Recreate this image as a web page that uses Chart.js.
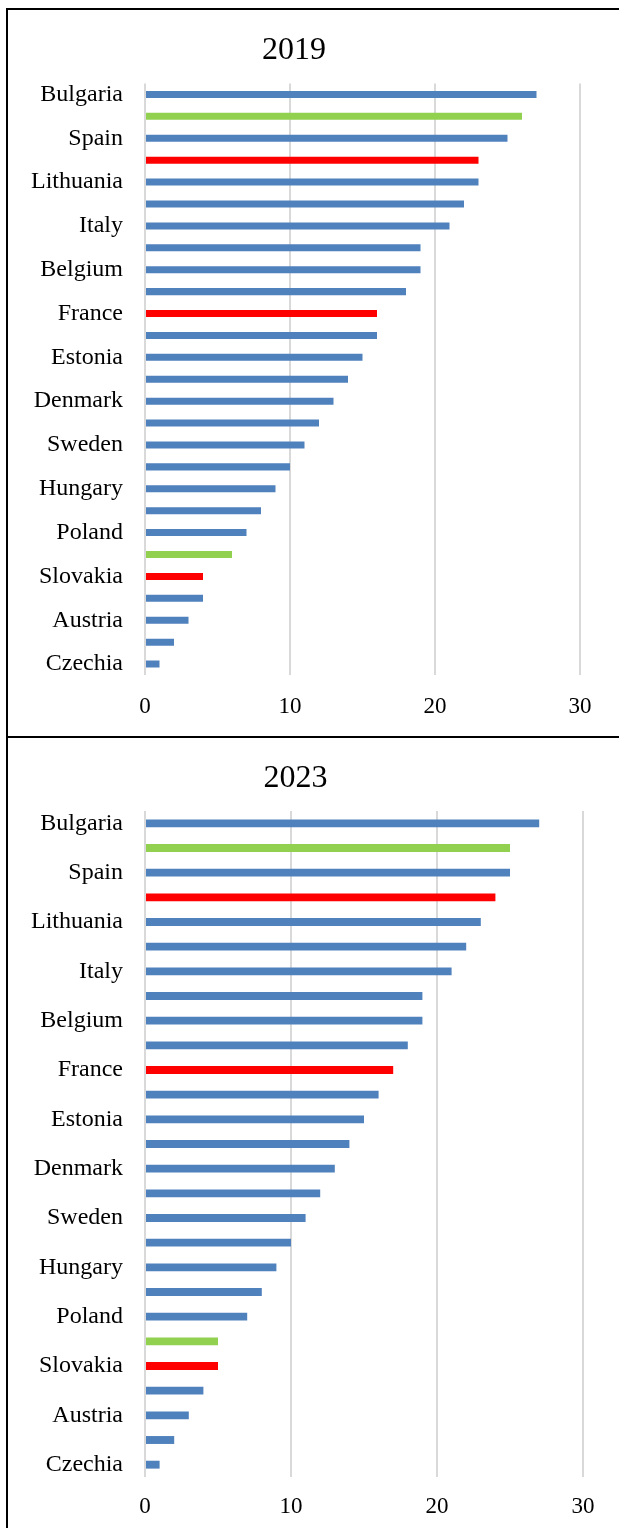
<!DOCTYPE html>
<html>
<head>
<meta charset="utf-8">
<script src="https://cdn.jsdelivr.net/npm/chart.js@4.4.1/dist/chart.umd.min.js"></script>
<style>
  html, body { margin: 0; padding: 0; background: #fff; overflow: hidden; }
  #frame { position: absolute; left: 6px; top: 8px; width: 613px; height: 1520px;
           border-left: 2px solid #000; border-top: 2px solid #000; }
  .panel { position: absolute; left: 0; width: 611px; }
  #p1 { top: 0; height: 726px; }
  #p2 { top: 726px; height: 790px; border-top: 2px solid #000; }
  canvas { display: block; }
</style>
</head>
<body>
<div id="frame">
  <div class="panel" id="p1"><canvas id="c2019"></canvas></div>
  <div class="panel" id="p2"><canvas id="c2023"></canvas></div>
</div>
<script>
// Country rows (every other row carries a label)
const countries = [
  'Bulgaria', '', 'Spain', '', 'Lithuania', '', 'Italy', '', 'Belgium', '',
  'France', '', 'Estonia', '', 'Denmark', '', 'Sweden', '', 'Hungary', '',
  'Poland', '', 'Slovakia', '', 'Austria', '', 'Czechia'
];

// Values per year
const values2019 = [27, 26, 25, 23, 23, 22, 21, 19, 19, 18, 16, 16, 15, 14, 13, 12, 11, 10, 9, 8, 7, 6, 4, 4, 3, 2, 1];
const values2023 = [27, 25, 25, 24, 23, 22, 21, 19, 19, 18, 17, 16, 15, 14, 13, 12, 11, 10, 9, 8, 7, 5, 5, 4, 3, 2, 1];

// Highlight group of each row: b = regular, g = green, r = red
const groups2019 = ['b','g','b','r','b','b','b','b','b','b','r','b','b','b','b','b','b','b','b','b','b','g','r','b','b','b','b'];
const groups2023 = ['b','g','b','r','b','b','b','b','b','b','r','b','b','b','b','b','b','b','b','b','b','g','r','b','b','b','b'];

const xTicks = [0, 10, 20, 30];

const palette = { b: '#4F81BD', g: '#92D050', r: '#FF0000' };
const serif = '"Liberation Serif", "Times New Roman", serif';

function drawPanel(id, title, values, groups, geo) {
  const colors = groups.map(g => palette[g]);
  new Chart(document.getElementById(id), {
    type: 'bar',
    data: {
      labels: countries,
      datasets: [{
        data: values,
        backgroundColor: colors,
        borderWidth: 0,
        barPercentage: 0.32,
        categoryPercentage: 1
      }]
    },
    options: {
      indexAxis: 'y',
      responsive: true,
      maintainAspectRatio: false,
      animation: false,
      layout: { padding: { left: 0, right: geo.right, top: 0, bottom: 0 } },
      plugins: {
        legend: { display: false },
        tooltip: { enabled: false },
        title: {
          display: true,
          text: title,
          color: '#000',
          font: { family: serif, size: 32, weight: 'normal' },
          padding: { top: geo.titleTop, bottom: geo.titleBottom }
        }
      },
      scales: {
        x: {
          min: 0, max: 30,
          afterBuildTicks: s => { s.ticks = xTicks.map(v => ({ value: v })); },
          afterFit: s => { s.height = geo.axisHeight; },
          grid: { color: '#D9D9D9', lineWidth: 2, drawTicks: false },
          border: { display: false },
          ticks: { color: '#000', padding: geo.tickPad, font: { family: serif, size: 23 } }
        },
        y: {
          afterFit: s => { s.width = 137; },
          grid: { display: false, drawTicks: false },
          border: { display: false },
          ticks: { color: '#000', padding: 22, autoSkip: false, font: { family: serif, size: 24 } }
        }
      }
    }
  });
}

drawPanel('c2019', '2019', values2019, groups2019,
  { right: 39, axisHeight: 61, titleTop: 21.3, titleBottom: 13.8, tickPad: 18.2 });
drawPanel('c2023', '2023', values2023, groups2023,
  { right: 36, axisHeight: 51, titleTop: 21.8, titleBottom: 12.8, tickPad: 16.2 });
</script>
</body>
</html>
